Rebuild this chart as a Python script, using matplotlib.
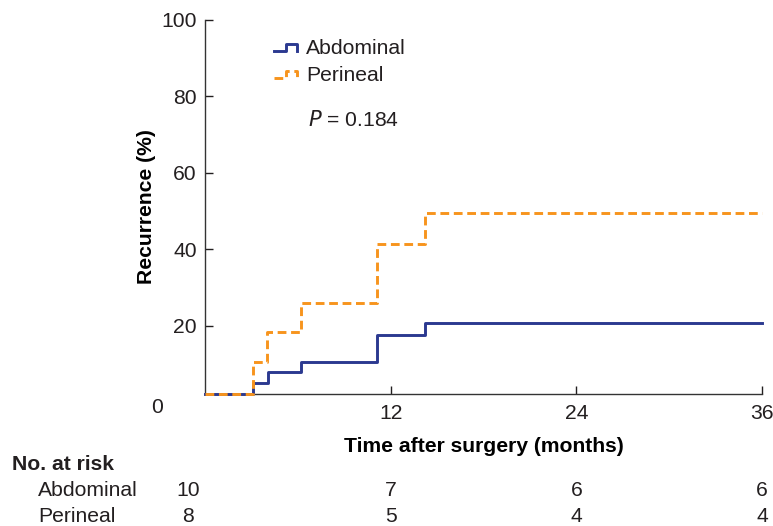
import matplotlib
matplotlib.use("Agg")
import matplotlib.pyplot as plt
from matplotlib.lines import Line2D
from matplotlib.legend_handler import HandlerLine2D

plt.rcParams['font.family'] = ['Liberation Sans', 'DejaVu Sans']
plt.rcParams['text.color'] = "#231F20"

# step data (months, % recurrence)
abd_time = [0, 3.1, 4.1, 6.2, 11.1, 14.2, 36]
abd_rec = [2.2, 5.1, 8.0, 10.6, 17.6, 20.8, 20.8]
per_time = [0, 3.1, 4.0, 6.2, 11.1, 14.2, 36]
per_rec = [2.2, 10.5, 18.3, 25.9, 41.4, 49.5, 49.5]

risk_times = [-1.1, 12, 24, 36]
abd_risk = [10, 7, 6, 6]
per_risk = [8, 5, 4, 4]

blue = "#2B3990"
orange = "#F7941D"
ink = "#231F20"
fs = 15.2


class StepHandler(HandlerLine2D):
    # draws a little step in the legend instead of a flat line
    def create_artists(self, legend, orig_handle, xdescent, ydescent,
                       width, height, fontsize, trans):
        x0, x1 = -xdescent, -xdescent + width
        xm = x0 + width * 0.5
        yl = -ydescent + height * 0.2
        yh = -ydescent + height * 0.7
        line = Line2D([x0, xm, xm, x1, x1], [yl, yl, yh, yh, yl])
        line.update_from(orig_handle)
        line.set_transform(trans)
        return [line]


fig = plt.figure(figsize=(7.73, 5.26), dpi=100)
ax = fig.add_axes([205 / 773, 1 - 394 / 526, 557 / 773, 374 / 526])

ax.step(abd_time, abd_rec, where="post", color=blue, lw=2.1,
        label="Abdominal", clip_on=False, zorder=3)
ax.step(per_time, per_rec, where="post", color=orange, lw=2.1,
        ls=(0, (3, 1.6)), label="Perineal", clip_on=False, zorder=4)

ax.set_xlim(0, 36)
ax.set_ylim(2.2, 100)
ax.set_xticks([12, 24, 36])
ax.set_yticks([20, 40, 60, 80, 100])
ax.tick_params(direction="in", length=6, width=1, labelsize=fs, colors=ink,
               pad=7)
ax.tick_params(axis="y", pad=6)
for s in ["top", "right"]:
    ax.spines[s].set_visible(False)
for s in ["left", "bottom"]:
    ax.spines[s].set_linewidth(1)
    ax.spines[s].set_color("#333333")

ax.text(-0.086, -0.035, "0", transform=ax.transAxes, ha="center",
        va="center", fontsize=fs)

ax.set_ylabel("Recurrence (%)", fontsize=fs, fontweight="bold", labelpad=4)
ax.set_xlabel("Time after surgery (months)", fontsize=fs, fontweight="bold",
              labelpad=10)

leg = ax.legend(loc="upper left", bbox_to_anchor=(0.09, 1.0), frameon=False,
                fontsize=fs, handlelength=1.1, handletextpad=0.4,
                labelspacing=0.4, handler_map={Line2D: StepHandler()})
ax.text(0.185, 0.733, r"$\it{P}$ = 0.184", transform=ax.transAxes,
        fontsize=fs, ha="left", va="center")

# number at risk table
fig.text(12 / 773, 1 - 465 / 526, "No. at risk", fontsize=fs, fontweight="bold",
         va="center")
fig.text(38 / 773, 1 - 491 / 526, "Abdominal", fontsize=fs, va="center")
fig.text(38 / 773, 1 - 516 / 526, "Perineal", fontsize=fs, va="center")
for t, a, p in zip(risk_times, abd_risk, per_risk):
    xf = (205 + t / 36 * 557) / 773
    fig.text(xf, 1 - 491 / 526, str(a), fontsize=fs, ha="center", va="center")
    fig.text(xf, 1 - 516 / 526, str(p), fontsize=fs, ha="center", va="center")

fig.savefig("out.png", dpi=100)
